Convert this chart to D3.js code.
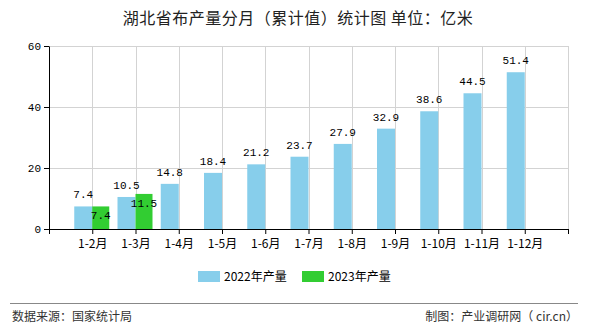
<!DOCTYPE html>
<html>
<head>
<meta charset="utf-8">
<script src="https://cdn.jsdelivr.net/npm/d3@7/dist/d3.min.js"></script>
<style>
  html, body { margin: 0; padding: 0; background: #fff; }
  svg { display: block; }
</style>
</head>
<body>
<div id="chart"></div>
<script>
// Monthly cumulative cloth output, Hubei (unit: 100 million metres)
const categories = ["1-2月", "1-3月", "1-4月", "1-5月", "1-6月", "1-7月", "1-8月", "1-9月", "1-10月", "1-11月", "1-12月"];
const values2022 = [7.4, 10.5, 14.8, 18.4, 21.2, 23.7, 27.9, 32.9, 38.6, 44.5, 51.4];
const values2023 = [7.4, 11.5];
const yTicks = [0, 20, 40, 60];
const seriesNames = ["2022年产量", "2023年产量"];
const seriesColors = ["#87CEEB", "#32CD32"];

const W = 590, H = 330;
const plotLeft = 49, plotRight = 568, plotTop = 46, plotBottom = 229;

const svg = d3.select("#chart").append("svg")
  .attr("width", W).attr("height", H)
  .style("font-family", "'Noto Sans CJK SC', sans-serif");

// title
svg.append("text")
  .attr("x", 298).attr("y", 24)
  .attr("text-anchor", "middle")
  .attr("font-size", 16)
  .attr("letter-spacing", 0.5)
  .attr("fill", "#222")
  .text("湖北省布产量分月（累计值）统计图 单位：亿米");

// x positions: categories sit between an empty slot on each side
const xDomain = ["__start", ...categories, "__end"];
const x = d3.scalePoint().domain(xDomain).range([plotLeft, plotRight]);
const y = d3.scaleLinear().domain([0, 60]).range([plotBottom, plotTop]);

const grid = svg.append("g").attr("stroke", "#d3d3d3").attr("stroke-width", 1);
// vertical grid lines
grid.selectAll("line.v").data(xDomain.slice(1)).enter().append("line")
  .attr("x1", d => Math.round(x(d)) + 0.5).attr("x2", d => Math.round(x(d)) + 0.5)
  .attr("y1", plotTop).attr("y2", plotBottom);
// horizontal grid lines
grid.selectAll("line.h").data(yTicks.slice(1)).enter().append("line")
  .attr("x1", plotLeft).attr("x2", plotRight)
  .attr("y1", d => Math.round(y(d)) + 0.5).attr("y2", d => Math.round(y(d)) + 0.5);

const barW = 18;
// 2022 bars (left of the tick)
svg.append("g").selectAll("rect").data(values2022).enter().append("rect")
  .attr("x", (d, i) => x(categories[i]) - barW)
  .attr("width", barW)
  .attr("y", d => y(d))
  .attr("height", d => plotBottom - y(d))
  .attr("fill", seriesColors[0]);
// 2023 bars (right of the tick)
svg.append("g").selectAll("rect").data(values2023).enter().append("rect")
  .attr("x", (d, i) => x(categories[i]))
  .attr("width", barW - 1)
  .attr("y", d => y(d))
  .attr("height", d => plotBottom - y(d))
  .attr("fill", seriesColors[1]);

const labelFont = "'Liberation Mono', 'DejaVu Sans Mono', monospace";
// value labels
svg.append("g").selectAll("text").data(values2022).enter().append("text")
  .attr("x", (d, i) => x(categories[i]) - barW / 2)
  .attr("y", d => y(d) - 8)
  .attr("text-anchor", "middle")
  .attr("font-family", labelFont)
  .attr("font-size", 11)
  .attr("fill", "#000")
  .text(d => d.toFixed(1));
svg.append("g").selectAll("text").data(values2023).enter().append("text")
  .attr("x", (d, i) => x(categories[i]) + (barW - 1) / 2)
  .attr("y", d => y(d) + 13)
  .attr("text-anchor", "middle")
  .attr("font-family", labelFont)
  .attr("font-size", 11)
  .attr("fill", "#000")
  .text(d => d.toFixed(1));

// axes
const xAxis = d3.axisBottom(x).tickSizeOuter(0).tickSize(5)
  .tickFormat(d => d.startsWith("__") ? "" : d);
const gx = svg.append("g").attr("transform", `translate(0,${plotBottom})`).call(xAxis);
gx.select(".domain").attr("stroke", "#000");
gx.selectAll(".tick line").attr("stroke", "#000");
gx.selectAll(".tick text").attr("font-size", 12).attr("fill", "#000")
  .attr("font-family", "'Noto Sans CJK SC', sans-serif").attr("dy", "0.9em");

const yAxis = d3.axisLeft(y).tickValues(yTicks).tickSize(5).tickSizeOuter(0);
const gy = svg.append("g").attr("transform", `translate(${plotLeft},0)`).call(yAxis);
gy.select(".domain").attr("stroke", "#000");
gy.selectAll(".tick line").attr("stroke", "#000");
gy.selectAll(".tick text").attr("font-size", 11).attr("fill", "#000")
  .attr("font-family", labelFont);

// legend
const legend = svg.append("g");
const legendX = [198, 302];
seriesNames.forEach((name, i) => {
  legend.append("rect").attr("x", legendX[i]).attr("y", 271)
    .attr("width", 22).attr("height", 11).attr("fill", seriesColors[i]);
  legend.append("text").attr("x", legendX[i] + 26).attr("y", 281)
    .attr("font-size", 12).attr("fill", "#000").text(name);
});

// footer
svg.append("line").attr("x1", 10).attr("x2", 578).attr("y1", 303.5).attr("y2", 303.5)
  .attr("stroke", "#888").attr("stroke-width", 1);
svg.append("text").attr("x", 12).attr("y", 321).attr("font-size", 12).attr("fill", "#333")
  .text("数据来源：国家统计局");
svg.append("text").attr("x", 578).attr("y", 321).attr("font-size", 12).attr("fill", "#333")
  .attr("text-anchor", "end").text("制图：产业调研网（ cir.cn）");
</script>
</body>
</html>
